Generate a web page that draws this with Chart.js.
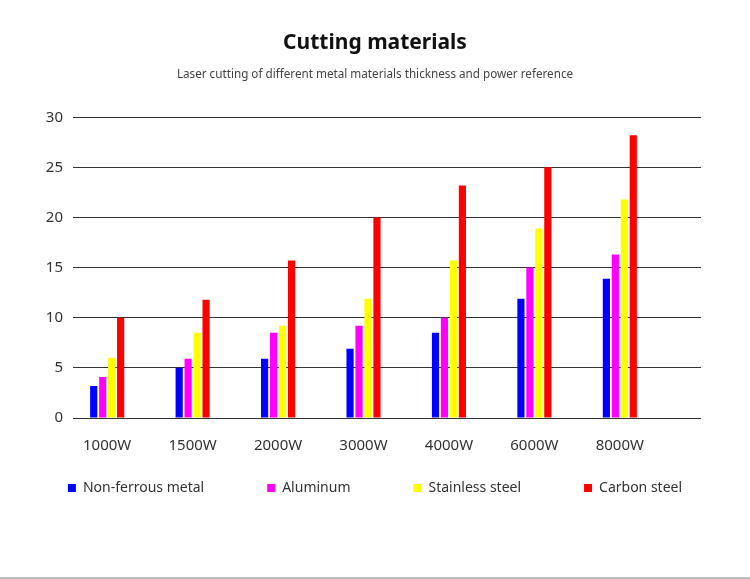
<!DOCTYPE html>
<html lang="en">
<head>
    <meta charset="UTF-8">
    <title>Cutting materials</title>
    <script src="https://cdn.jsdelivr.net/npm/chart.js"></script>
    <style>
        html, body { margin: 0; padding: 0; background: #fff; }
        .wrap { width: 750px; height: 577px; border-bottom: 2px solid #bbb; }
    </style>
</head>
<body>
    <div class="wrap">
        <canvas id="cutChart" width="750" height="577"></canvas>
    </div>
    <script>
        // power levels (x axis)
        const powers = ["1000W", "1500W", "2000W", "3000W", "4000W", "6000W", "8000W"];

        // thickness per material
        const nonFerrous = [3.2, 5, 5.9, 6.9, 8.5, 11.9, 13.9];
        const aluminum = [4.1, 5.9, 8.5, 9.2, 10, 15, 16.3];
        const stainless = [6, 8.5, 9.2, 11.9, 15.7, 18.9, 21.8];
        const carbon = [10, 11.8, 15.7, 20, 23.2, 25, 28.2];

        const yTicks = [0, 5, 10, 15, 20, 25, 30];

        const fontFamily = "'Noto Sans', sans-serif";

        function toPoints(values) {
            return values.map((v, i) => ({ x: i, y: v }));
        }

        const ctx = document.getElementById("cutChart").getContext("2d");

        new Chart(ctx, {
            type: "bar",
            data: {
                datasets: [
                    { label: "Non-ferrous metal", data: toPoints(nonFerrous), backgroundColor: "#0000ff" },
                    { label: "Aluminum", data: toPoints(aluminum), backgroundColor: "#ff00ff" },
                    { label: "Stainless steel", data: toPoints(stainless), backgroundColor: "#ffff00" },
                    { label: "Carbon steel", data: toPoints(carbon), backgroundColor: "#ff0000" }
                ]
            },
            options: {
                responsive: false,
                animation: false,
                categoryPercentage: 0.42,
                barPercentage: 0.8,
                layout: { padding: { left: 0, right: 0, top: 0, bottom: 72 } },
                plugins: {
                    title: {
                        display: true,
                        text: "Cutting materials",
                        color: "#111",
                        font: { family: fontFamily, size: 21, weight: "bold", lineHeight: 1.2 },
                        padding: { top: 30, bottom: 0 }
                    },
                    subtitle: {
                        display: true,
                        text: "Laser cutting of different metal materials thickness and power reference",
                        color: "#444",
                        font: { family: fontFamily, size: 11.7, lineHeight: 1.2 },
                        padding: { top: 12, bottom: 36 }
                    },
                    legend: {
                        position: "bottom",
                        labels: {
                            boxWidth: 8,
                            boxHeight: 8,
                            padding: 63,
                            color: "#333",
                            font: { family: fontFamily, size: 14 }
                        }
                    },
                    tooltip: { enabled: false }
                },
                scales: {
                    x: {
                        type: "linear",
                        offset: false,
                        min: -0.4,
                        max: 6.95,
                        // labels hang below the axis without taking layout room
                        afterFit: scale => { scale.height = 0; },
                        grid: { display: false },
                        border: { display: false },
                        ticks: {
                            stepSize: 1,
                            includeBounds: false,
                            autoSkip: false,
                            maxRotation: 0,
                            mirror: true,
                            padding: -37,
                            color: "#333",
                            font: { family: fontFamily, size: 15 },
                            callback: value => Number.isInteger(value) ? powers[value] : ""
                        }
                    },
                    y: {
                        min: 0,
                        max: 30,
                        afterFit: scale => { scale.width = 73; },
                        afterBuildTicks: scale => { scale.ticks = yTicks.map(v => ({ value: v })); },
                        grid: { color: "#333", lineWidth: 1, drawTicks: false },
                        border: { display: false },
                        ticks: {
                            padding: 10,
                            color: "#333",
                            font: { family: fontFamily, size: 15 }
                        }
                    },
                    yRight: {
                        position: "right",
                        afterFit: scale => { scale.width = 49; },
                        grid: { display: false },
                        border: { display: false },
                        ticks: { display: false }
                    }
                }
            }
        });
    </script>
</body>
</html>
